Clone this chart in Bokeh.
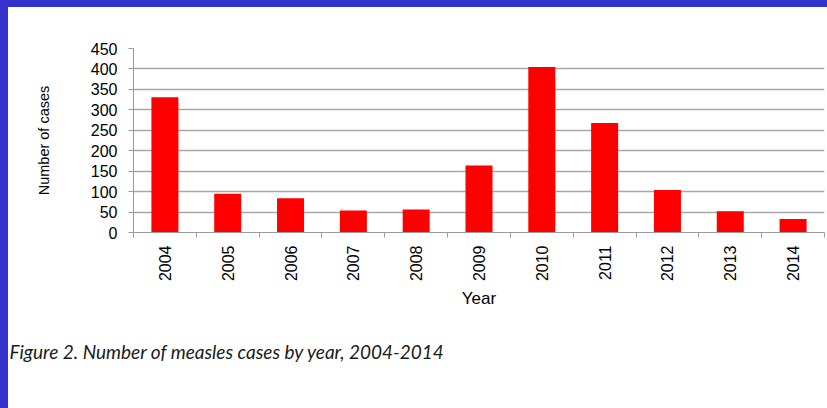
import numpy as np
from bokeh.plotting import figure
from bokeh.models import Range1d, FixedTicker, Title, GlobalInlineStyleSheet
from bokeh.embed import file_html
from bokeh.resources import INLINE

# ---- data ----
years = ["2004", "2005", "2006", "2007", "2008", "2009",
         "2010", "2011", "2012", "2013", "2014"]
cases = [331, 95, 84, 54, 56, 164, 405, 268, 104, 52, 33]
y_ticks = [0, 50, 100, 150, 200, 250, 300, 350, 400, 450]
x_title = "Year"
y_title = "Number of cases"
caption = "Figure 2. Number of measles cases by year, 2004-2014"

n = len(years)
xs = np.arange(n) + 0.5
BLUE = "#3333cc"

page_css = ("body{border-left:8px solid %s;border-top:7px solid %s;"
            "background:#ffffff;overflow:hidden;}" % (BLUE, BLUE))

p = figure(width=819, height=401, output_backend="svg", toolbar_location=None,
           x_range=Range1d(0, n), y_range=Range1d(0, y_ticks[-1]),
           min_border_left=125, min_border_right=3, min_border_top=41,
           min_border_bottom=176)
p.stylesheets = [GlobalInlineStyleSheet(css=page_css)]
p.background_fill_color = "white"
p.border_fill_color = "white"
p.outline_line_color = None

p.vbar(x=xs, top=cases, bottom=0, width=0.43,
       fill_color="#ff0000", line_color=None)

# grid
p.xgrid.visible = False
p.ygrid.grid_line_color = "#a8a8a8"
p.ygrid.grid_line_width = 1.5

axis_color = "#9a9a9a"
font = "Liberation Sans"

# x axis
xa = p.xaxis[0]
xa.ticker = FixedTicker(ticks=list(xs), minor_ticks=list(range(n + 1)))
xa.major_label_overrides = {float(x): y for x, y in zip(xs, years)}
xa.major_tick_out = 0
xa.major_tick_in = 0
xa.minor_tick_out = 5
xa.minor_tick_in = 0
xa.minor_tick_line_color = axis_color
xa.axis_line_color = axis_color
xa.major_label_orientation = np.pi / 2
xa.major_label_standoff = 8
xa.axis_label = x_title
xa.axis_label_standoff = 5

# y axis
ya = p.yaxis[0]
ya.ticker = FixedTicker(ticks=y_ticks)
ya.major_tick_out = 5
ya.major_tick_in = 0
ya.major_tick_line_color = axis_color
ya.minor_tick_line_color = None
ya.axis_line_color = axis_color
ya.major_label_standoff = 11
ya.axis_label = y_title
ya.axis_label_standoff = 36

for ax in (xa, ya):
    ax.major_label_text_font = font
    ax.major_label_text_font_size = "16px"
    ax.major_label_text_color = "#000000"
    ax.axis_label_text_font = font
    ax.axis_label_text_font_style = "normal"
    ax.axis_label_text_color = "#000000"
xa.axis_label_text_font_size = "17px"
ya.axis_label_text_font_size = "14.5px"

# spacer between the axis and the caption
p.add_layout(Title(text=" ", text_font_size="17px", standoff=0), "below")
p.add_layout(Title(text=caption, align="left", offset=-124, standoff=10,
                   text_font="Lato", text_font_style="italic",
                   text_font_size="19px", text_color="#1a1a1a"), "below")

open("out.html", "w").write(file_html(p, INLINE))
